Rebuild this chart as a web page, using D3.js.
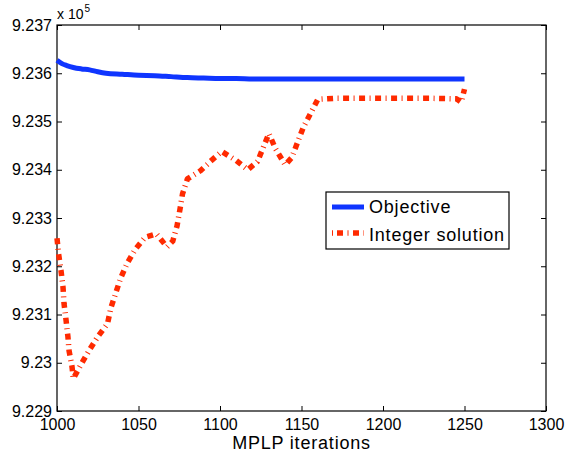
<!DOCTYPE html>
<html><head><meta charset="utf-8">
<script src="https://cdn.jsdelivr.net/npm/d3@7"></script>
<style>body{margin:0;background:#fff;} svg{display:block;font-family:"Liberation Sans",Arial,Helvetica,sans-serif;}</style>
</head><body>
<script>
const objIter = [1000,1003,1006,1010,1015,1020,1025,1030,1040,1050,1060,1070,1080,1090,1100,1110,1120,1130,1140,1150,1160,1180,1200,1220,1250];
const objVal  = [9.23627,9.23620,9.23616,9.23612,9.23609,9.23607,9.23603,9.23600,9.23598,9.23596,9.23595,9.23593,9.23591,9.23590,9.23589,9.23589,9.23588,9.23588,9.23588,9.23588,9.23588,9.23588,9.23588,9.23588,9.23588];
const intIter = [1000,1001,1002.5,1003.7,1004.3,1005.5,1006.7,1007.4,1009.2,1010,1015,1020,1025,1031,1033,1036,1039,1043,1048,1054,1061,1067.5,1071,1073.6,1075.5,1077,1080,1088,1095,1101,1110,1117,1123,1130,1134,1140,1144,1151,1160,1170,1200,1230,1245,1248,1250];
const intVal  = [9.23258,9.23225,9.23190,9.23156,9.23123,9.23090,9.23054,9.23025,9.22992,9.22967,9.22998,9.23027,9.23054,9.23081,9.23113,9.23144,9.23175,9.23206,9.23235,9.23260,9.23267,9.23240,9.23252,9.23283,9.23319,9.23350,9.23381,9.23398,9.23420,9.23438,9.23419,9.23400,9.23417,9.23475,9.23444,9.23410,9.23425,9.23487,9.23546,9.23548,9.23548,9.23548,9.23547,9.23540,9.23567];
const xTicks = [1000,1050,1100,1150,1200,1250,1300];
const yTicks = [9.229,9.230,9.231,9.232,9.233,9.234,9.235,9.236,9.237];
const yTickLabels = ["9.229","9.23","9.231","9.232","9.233","9.234","9.235","9.236","9.237"];
const seriesNames = ["Objective","Integer solution"];

const W=566,H=452, L=57,R=546,T=25,B=411;
const svg=d3.select("body").append("svg").attr("width",W).attr("height",H);
const x=d3.scaleLinear().domain([1000,1300]).range([L,R]);
const y=d3.scaleLinear().domain([9.229,9.237]).range([B,T]);

const ax=svg.append("g").attr("transform",`translate(0,${B})`)
  .call(d3.axisBottom(x).tickValues(xTicks).tickSizeInner(-5).tickSizeOuter(0).tickPadding(8).tickFormat(d3.format("d")));
const axT=svg.append("g").attr("transform",`translate(0,${T})`)
  .call(d3.axisTop(x).tickValues(xTicks).tickSizeInner(-5).tickSizeOuter(0).tickFormat(""));
const ay=svg.append("g").attr("transform",`translate(${L},0)`)
  .call(d3.axisLeft(y).tickValues(yTicks).tickSizeInner(-5).tickSizeOuter(0).tickPadding(5).tickFormat((d,i)=>yTickLabels[i]));
const ayR=svg.append("g").attr("transform",`translate(${R},0)`)
  .call(d3.axisRight(y).tickValues(yTicks).tickSizeInner(-5).tickSizeOuter(0).tickFormat(""));
[ax,axT,ay,ayR].forEach(g=>{g.select(".domain").remove();g.selectAll("line").attr("stroke","#000");
  g.selectAll("text").attr("font-size",16).attr("fill","#000").attr("font-family","Liberation Sans, Arial, sans-serif");});
svg.append("rect").attr("x",L).attr("y",T).attr("width",R-L).attr("height",B-T)
  .attr("fill","none").attr("stroke","#000").attr("stroke-width",1.2);

const line=d3.line().x(d=>x(d[0])).y(d=>y(d[1]));
svg.append("path").datum(intIter.map((d,i)=>[d,intVal[i]])).attr("d",line)
  .attr("fill","none").attr("stroke","#ff2a00").attr("stroke-width",5.5).attr("stroke-dasharray","6,4.5,1,4.5").attr("stroke-linejoin","round");
svg.append("path").datum(objIter.map((d,i)=>[d,objVal[i]])).attr("d",line.curve(d3.curveMonotoneX))
  .attr("fill","none").attr("stroke","#0f35ff").attr("stroke-width",5);

const ex=svg.append("text").attr("x",L).attr("y",19).attr("font-size",14).attr("fill","#000");
ex.append("tspan").text("x 10");
ex.append("tspan").attr("dy",-7).attr("dx",1).attr("font-size",10).text("5");

svg.append("text").attr("x",(L+R)/2).attr("y",449).attr("text-anchor","middle").attr("font-size",18).attr("letter-spacing",0.8).attr("fill","#000").text("MPLP iterations");

const lg=svg.append("g");
lg.append("rect").attr("x",326).attr("y",192).attr("width",183).attr("height",57).attr("fill","#fff").attr("stroke","#000").attr("stroke-width",1.2);
lg.append("line").attr("x1",332).attr("x2",364).attr("y1",207).attr("y2",207).attr("stroke","#0f35ff").attr("stroke-width",5);
lg.append("line").attr("x1",332).attr("x2",364).attr("y1",233).attr("y2",233).attr("stroke","#ff2a00").attr("stroke-width",5.5).attr("stroke-dasharray","1,4,6,4.5,1,4.5,6,4.5");
lg.append("text").attr("x",369).attr("y",213).attr("font-size",18).attr("letter-spacing",0.8).attr("fill","#000").text(seriesNames[0]);
lg.append("text").attr("x",369).attr("y",241).attr("font-size",18).attr("letter-spacing",0.8).attr("fill","#000").text(seriesNames[1]);
</script>
</body></html>
